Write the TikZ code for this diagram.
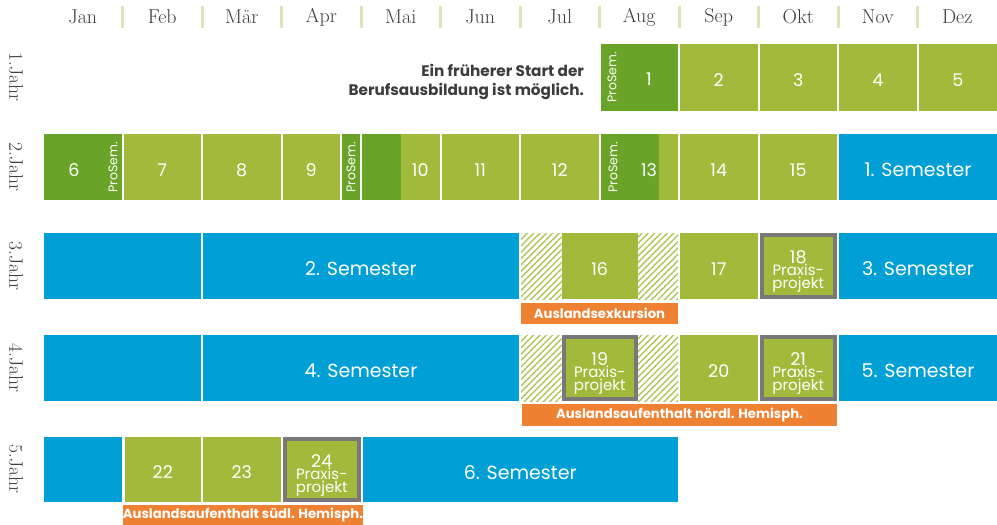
\documentclass[tikz,border=0pt]{standalone}
\usepackage{fontspec}
\newfontfamily\pop{Poppins}
\usetikzlibrary{patterns.meta}
\definecolor{lg}{HTML}{A2BA3B}
\definecolor{dg}{HTML}{69A429}
\definecolor{bl}{HTML}{00A0D6}
\definecolor{org}{HTML}{EF8132}
\definecolor{gb}{HTML}{7A7778}
\definecolor{sepc}{HTML}{DCE5BA}
\definecolor{txt}{HTML}{3C3C3C}
\newcommand\boxcell[7]{\node[#6, minimum width={#3-#2}, minimum height={#5-#4}] (#1) at ({(#2+#3)/2},{(#4+#5)/2}) {#7};}
\newcommand\praxis[6]{%
  \node[graybox, minimum width={#3-#2}, minimum height={#5-#4}] (#1) at ({(#2+#3)/2},{(#4+#5)/2}) {};
  \node[base, fill=lg, minimum width={#3-#2-8}, minimum height={#5-#4-8}] (#1in) at (#1.center) {};
  \node[base, text=white, anchor=base] (#1t) at ({(#2+#3)/2},{#4+30}) {\parbox[t]{68pt}{\centering\pop\lineskiplimit=-30pt {\fontsize{17.5}{12.5}\selectfont #6}\\\fontsize{15}{12.5}\selectfont Praxis-\\projekt\par}};}
\newcommand\hatch[4]{\fill[pattern={Lines[angle=45,distance=4.5pt,line width=1.4pt]}, pattern color=lg!85] (#1,#3) rectangle (#2,#4);}
\begin{document}
\begin{tikzpicture}[x=1pt,y=-1pt,
  base/.style={inner sep=0pt, outer sep=0pt},
  lgc/.style={base, fill=lg, text=white, text height=18.5pt, text depth=0pt, font=\pop\fontsize{17.5}{20}\selectfont},
  dgc/.style={base, fill=dg, text=white, font=\pop\fontsize{17.5}{20}\selectfont},
  blc/.style={base, fill=bl, text=white, text height=19pt, text depth=0pt, font=\pop\fontsize{19}{20}\selectfont},
  graybox/.style={base, fill=gb},
  numtxt/.style={base, text=white, font=\pop\fontsize{17.5}{18}\selectfont},
  prosem/.style={base, text=white, rotate=90, font=\pop\fontsize{12.5}{13}\selectfont},
  month/.style={base, text=txt, font=\fontsize{20}{20}\selectfont},
  year/.style={base, text=txt, rotate=-90, font=\fontsize{19.5}{20}\selectfont},
  tag/.style={base, fill=org, text=white, font=\pop\bfseries\fontsize{13.2}{14}\selectfont},
  sepline/.style={draw=sepc, line width=3pt}
]
\useasboundingbox (0,0) rectangle (997,525);
% header
\foreach \m [count=\i] in {Jan,Feb,M\"ar,Apr,Mai,Jun,Jul,Aug,Sep,Okt,Nov,Dez}{
  \node[month] (m\i) at ({43+79.5*(\i-1)+39.75},17) {\m};
}
\foreach \i in {2,...,12}{
  \coordinate (st\i) at ({43+79.5*(\i-1)},6);
  \coordinate (sb\i) at ({43+79.5*(\i-1)},28);
  \draw[sepline] (st\i) -- (sb\i);
}
% year labels
\node[year] (y1) at (16,77) {\oldstylenums{1}.Jahr};
\node[year] (y2) at (16,167) {\oldstylenums{2}.Jahr};
\node[year] (y3) at (16,266) {\oldstylenums{3}.Jahr};
\node[year] (y4) at (16,368) {\oldstylenums{4}.Jahr};
\node[year] (y5) at (16,469) {\oldstylenums{5}.Jahr};

% ---- row 1 (44-111)
\node[base, text=txt, align=right, anchor=east, font=\pop\bfseries\fontsize{15.3}{19.5}\selectfont] (early) at (584,82) {Ein fr\"uherer Start der\\Berufsausbildung ist m\"oglich.};
\boxcell{c1}{600.5}{678}{44}{111}{dgc}{}
\node[prosem] (p1) at (612,77.5) {ProSem.};
\node[numtxt] (n1) at (649,79.5) {1};
\boxcell{c2}{680}{757.5}{44}{111}{lgc}{2}
\boxcell{c3}{759.5}{837}{44}{111}{lgc}{3}
\boxcell{c4}{839}{916.5}{44}{111}{lgc}{4}
\boxcell{c5}{918.5}{997}{44}{111}{lgc}{5}

% ---- row 2 (134-200)
\boxcell{c6}{44}{121.5}{134}{200}{dgc}{}
\node[numtxt] (n6) at (74,170) {6};
\node[prosem] (p6) at (113,167) {ProSem.};
\boxcell{c7}{123.5}{201}{134}{200}{lgc}{7}
\boxcell{c8}{203}{280.5}{134}{200}{lgc}{8}
\boxcell{c9}{282.5}{340}{134}{200}{lgc}{9}
\boxcell{c9p}{342}{360}{134}{200}{dgc}{}
\node[prosem] (p9) at (351,167) {ProSem.};
\boxcell{c10d}{362}{401.5}{134}{200}{dgc}{}
\boxcell{c10}{401}{439.5}{134}{200}{lgc}{10}
\boxcell{c11}{441.5}{519}{134}{200}{lgc}{11}
\boxcell{c12}{521}{598.5}{134}{200}{lgc}{12}
\boxcell{c13l}{658.5}{678}{134}{200}{lgc}{}
\boxcell{c13}{600.5}{659}{134}{200}{dgc}{}
\node[prosem] (p13) at (613,167) {ProSem.};
\node[numtxt] (n13) at (649,170) {13};
\boxcell{c14}{680}{757.5}{134}{200}{lgc}{14}
\boxcell{c15}{759.5}{837}{134}{200}{lgc}{15}
\boxcell{s1}{839}{997}{134}{200}{blc}{1. Semester}

% ---- row 3 (233-299)
\boxcell{b3a}{44}{201}{233}{299}{blc}{}
\boxcell{s2}{203}{519}{233}{299}{blc}{2. Semester}
\hatch{521}{561.5}{233}{299}
\boxcell{c16}{561.5}{638}{233}{299}{lgc}{16}
\hatch{638}{678}{233}{299}
\boxcell{c17}{680}{757.5}{233}{299}{lgc}{17}
\praxis{c18}{759.5}{837}{233}{299}{18}
\boxcell{s3}{839}{997}{233}{299}{blc}{3. Semester}
\boxcell{t1}{521}{678}{303}{323.5}{tag}{Auslandsexkursion}

% ---- row 4 (335-401)
\boxcell{b4a}{44}{201}{335}{401}{blc}{}
\boxcell{s4}{203}{519}{335}{401}{blc}{4. Semester}
\hatch{521}{561.5}{335}{401}
\praxis{c19}{561.5}{638}{335}{401}{19}
\hatch{638}{678}{335}{401}
\boxcell{c20}{680}{757.5}{335}{401}{lgc}{20}
\praxis{c21}{759.5}{837}{335}{401}{21}
\boxcell{s5}{839}{997}{335}{401}{blc}{5. Semester}
\boxcell{t2}{522}{837}{404}{426}{tag}{Auslandsaufenthalt n\"ordl. Hemisph.}

% ---- row 5 (437-502)
\boxcell{b5a}{44}{121.5}{437}{502}{blc}{}
\boxcell{c22}{124.5}{201}{437}{502}{lgc}{22}
\boxcell{c23}{203}{280.5}{437}{502}{lgc}{23}
\praxis{c24}{283}{360.5}{437}{502}{24}
\boxcell{s6}{362.5}{678}{437}{502}{blc}{6. Semester}
\boxcell{t3}{125}{361}{505}{525}{tag}{Auslandsaufenthalt s\"udl. Hemisph.}
\end{tikzpicture}
\end{document}
